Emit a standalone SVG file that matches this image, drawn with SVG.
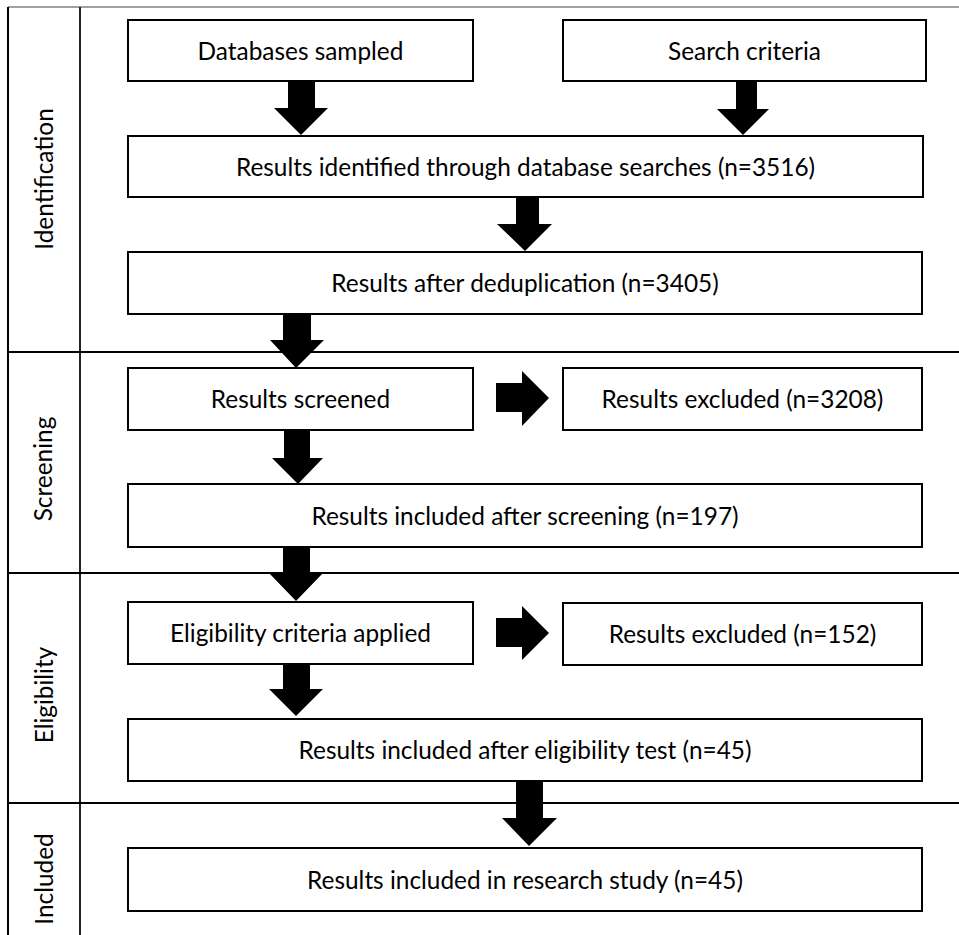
<svg xmlns="http://www.w3.org/2000/svg" width="959" height="935" viewBox="0 0 959 935">
<style>
  .box { fill: #fff; stroke: #000; stroke-width: 2; }
  .t { font-family: Lato, "Liberation Sans", sans-serif; font-size: 24.4px; fill: #000; text-anchor: middle; }
  .lane { stroke: #000; stroke-width: 2; fill: none; }
  .arr { fill: #000; stroke: none; }
</style>
<rect x="0" y="0" width="959" height="935" fill="#fff"/>
<g id="frame">
  <line x1="8" y1="7" x2="959" y2="7" stroke="#808080" stroke-width="1.5"/>
  <line class="lane" x1="8" y1="7" x2="8" y2="935"/>
  <line x1="80" y1="7" x2="80" y2="935" stroke="#222" stroke-width="2"/>
  <line class="lane" x1="8" y1="352" x2="959" y2="352"/>
  <line class="lane" x1="8" y1="573" x2="959" y2="573"/>
  <line class="lane" x1="8" y1="803" x2="959" y2="803"/>
</g>
<g id="lane-labels">
  <text class="t" transform="translate(53,179) rotate(-90)">Identification</text>
  <text class="t" transform="translate(52,469) rotate(-90)">Screening</text>
  <text class="t" transform="translate(53,695) rotate(-90)">Eligibility</text>
  <text class="t" transform="translate(53,879) rotate(-90)">Included</text>
</g>
<g id="connectors">
  <polygon class="arr" points="288,81 315,81 315,108 328,108 301,135 274,108 288,108"/>
  <polygon class="arr" points="736,81 757,81 757,109 769,109 743,135 717,109 736,109"/>
  <polygon class="arr" points="516,197 539,197 539,224 552,224 525,251 497,224 516,224"/>
  <polygon class="arr" points="283,314 311,314 311,340 324,340 296,368 270,340 283,340"/>
  <polygon class="arr" points="284,430 310,430 310,458 323,458 298,484 272,458 284,458"/>
  <polygon class="arr" points="283,547 310,547 310,573 323,573 296,601 269,573 283,573"/>
  <polygon class="arr" points="283,664 310,664 310,689 323,689 296,716 269,689 283,689"/>
  <polygon class="arr" points="516,781 543,781 543,818 557,818 529,846 502,818 516,818"/>
  <polygon class="arr" points="496,383 522,383 522,371 549,398 522,426 522,412 496,412"/>
  <polygon class="arr" points="496,618 522,618 522,606 549,633 522,660 522,647 496,647"/>
</g>
<g id="n-databases">
  <rect class="box" x="128" y="20" width="345" height="61"/>
  <text class="t" x="300.5" y="60">Databases sampled</text>
</g>
<g id="n-search">
  <rect class="box" x="563" y="20" width="363" height="61"/>
  <text class="t" x="744.5" y="60">Search criteria</text>
</g>
<g id="n-identified">
  <rect class="box" x="128" y="136" width="795" height="61"/>
  <text class="t" x="525.5" y="176">Results identified through database searches (n=3516)</text>
</g>
<g id="n-dedup">
  <rect class="box" x="128" y="252" width="794" height="62"/>
  <text class="t" x="525" y="292">Results after deduplication (n=3405)</text>
</g>
<g id="n-screened">
  <rect class="box" x="128" y="368" width="345" height="62"/>
  <text class="t" x="300.5" y="408">Results screened</text>
</g>
<g id="n-excluded1">
  <rect class="box" x="563" y="368" width="359" height="62"/>
  <text class="t" x="742.5" y="408">Results excluded (n=3208)</text>
</g>
<g id="n-incl-screening">
  <rect class="box" x="128" y="484" width="794" height="63"/>
  <text class="t" x="525" y="525">Results included after screening (n=197)</text>
</g>
<g id="n-eligibility">
  <rect class="box" x="128" y="602" width="345" height="62"/>
  <text class="t" x="300.5" y="642">Eligibility criteria applied</text>
</g>
<g id="n-excluded2">
  <rect class="box" x="563" y="603" width="359" height="62"/>
  <text class="t" x="742.5" y="643">Results excluded (n=152)</text>
</g>
<g id="n-incl-eligibility">
  <rect class="box" x="128" y="719" width="794" height="62"/>
  <text class="t" x="525" y="759">Results included after eligibility test (n=45)</text>
</g>
<g id="n-research">
  <rect class="box" x="128" y="848" width="794" height="63"/>
  <text class="t" x="525" y="889">Results included in research study (n=45)</text>
</g>
</svg>
